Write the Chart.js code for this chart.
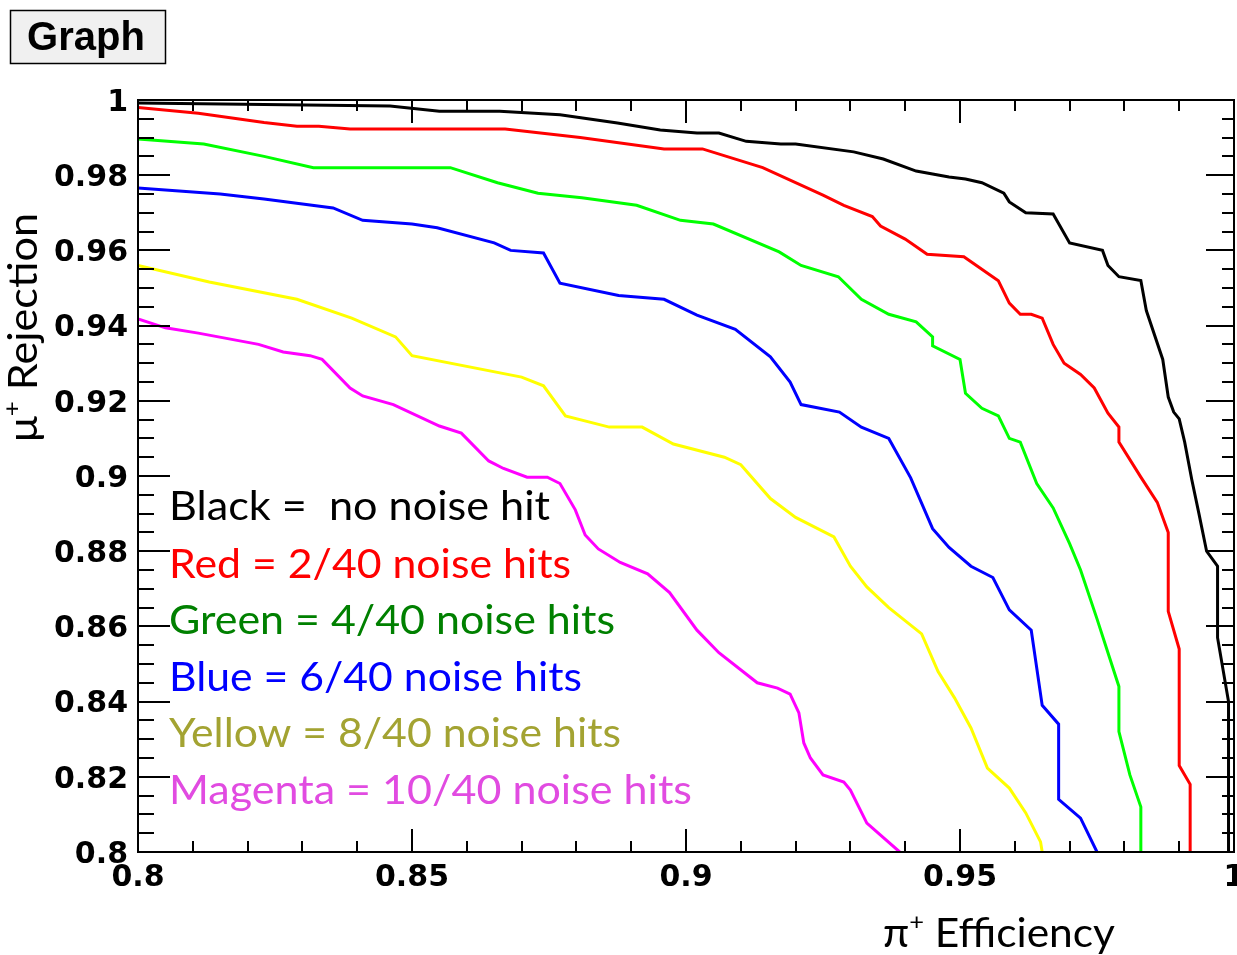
<!DOCTYPE html>
<html>
<head>
<meta charset="utf-8">
<script src="https://cdn.jsdelivr.net/npm/chart.js@4.4.1/dist/chart.umd.min.js"></script>
<style>
  html, body { margin: 0; padding: 0; background: #fff; }
  canvas { display: block; }
</style>
</head>
<body>
<canvas id="c" width="1237" height="955" style="width:1237px;height:955px"></canvas>
<script>
// ---- data ----
const blackX = [0.8, 0.846, 0.855, 0.866, 0.877, 0.8875, 0.8953, 0.902, 0.906, 0.911, 0.9173, 0.920, 0.9306, 0.936, 0.942, 0.948, 0.951, 0.954, 0.958, 0.959, 0.962, 0.967, 0.970, 0.976, 0.977, 0.979, 0.983, 0.984, 0.987, 0.988, 0.989, 0.990, 0.991, 0.9923, 0.9936, 0.995, 0.997, 0.997, 0.999, 0.999];
const blackY = [0.9992, 0.9984, 0.997, 0.997, 0.9961, 0.9939, 0.992, 0.9912, 0.9912, 0.989, 0.9883, 0.9883, 0.9862, 0.9843, 0.9811, 0.9795, 0.979, 0.978, 0.9752, 0.9729, 0.970, 0.9697, 0.962, 0.960, 0.956, 0.953, 0.952, 0.944, 0.931, 0.921, 0.917, 0.9152, 0.909, 0.899, 0.890, 0.880, 0.876, 0.857, 0.840, 0.800];

const redX = [0.8, 0.811, 0.823, 0.829, 0.833, 0.8387, 0.867, 0.8807, 0.896, 0.903, 0.914, 0.925, 0.9288, 0.934, 0.9355, 0.940, 0.944, 0.9507, 0.957, 0.959, 0.961, 0.963, 0.965, 0.967, 0.969, 0.972, 0.9745, 0.977, 0.979, 0.979, 0.983, 0.986, 0.988, 0.988, 0.990, 0.990, 0.992, 0.992];
const redY = [0.998, 0.9965, 0.994, 0.993, 0.993, 0.9923, 0.9923, 0.990, 0.987, 0.987, 0.982, 0.9747, 0.972, 0.969, 0.9665, 0.963, 0.959, 0.9583, 0.9519, 0.946, 0.943, 0.943, 0.942, 0.935, 0.930, 0.927, 0.9234, 0.9167, 0.913, 0.909, 0.8997, 0.893, 0.885, 0.864, 0.854, 0.823, 0.818, 0.800];

const greenX = [0.8, 0.812, 0.823, 0.832, 0.857, 0.8656, 0.873, 0.881, 0.891, 0.899, 0.905, 0.917, 0.921, 0.9278, 0.932, 0.937, 0.942, 0.945, 0.945, 0.950, 0.951, 0.954, 0.957, 0.959, 0.961, 0.964, 0.967, 0.970, 0.972, 0.975, 0.977, 0.979, 0.979, 0.981, 0.983, 0.983];
const greenY = [0.9896, 0.9883, 0.985, 0.982, 0.982, 0.978, 0.9752, 0.974, 0.972, 0.968, 0.967, 0.9596, 0.956, 0.953, 0.947, 0.943, 0.941, 0.937, 0.9346, 0.931, 0.922, 0.918, 0.916, 0.910, 0.909, 0.898, 0.8915, 0.882, 0.875, 0.862, 0.853, 0.844, 0.832, 0.8205, 0.812, 0.800];

const blueX = [0.8, 0.815, 0.823, 0.8356, 0.841, 0.850, 0.8546, 0.865, 0.868, 0.874, 0.877, 0.8877, 0.896, 0.902, 0.909, 0.9154, 0.919, 0.921, 0.928, 0.932, 0.937, 0.941, 0.945, 0.948, 0.952, 0.956, 0.959, 0.963, 0.965, 0.968, 0.968, 0.972, 0.975];
const blueY = [0.9766, 0.975, 0.9737, 0.9713, 0.968, 0.967, 0.966, 0.962, 0.960, 0.9593, 0.9513, 0.948, 0.947, 0.9428, 0.939, 0.9317, 0.925, 0.919, 0.917, 0.913, 0.910, 0.8995, 0.886, 0.881, 0.876, 0.873, 0.8644, 0.859, 0.839, 0.834, 0.814, 0.809, 0.800];

const yellowX = [0.8, 0.813, 0.829, 0.839, 0.847, 0.850, 0.870, 0.874, 0.878, 0.886, 0.892, 0.8977, 0.907, 0.910, 0.9154, 0.920, 0.927, 0.930, 0.933, 0.937, 0.943, 0.946, 0.949, 0.952, 0.955, 0.959, 0.962, 0.9647, 0.965];
const yellowY = [0.956, 0.9516, 0.947, 0.942, 0.937, 0.932, 0.9263, 0.924, 0.916, 0.913, 0.913, 0.9085, 0.905, 0.903, 0.894, 0.889, 0.8838, 0.876, 0.8705, 0.865, 0.858, 0.848, 0.841, 0.833, 0.8223, 0.817, 0.8104, 0.8027, 0.800];

const magentaX = [0.8, 0.805, 0.811, 0.822, 0.8265, 0.8314, 0.8336, 0.8387, 0.841, 0.8466, 0.855, 0.859, 0.864, 0.8667, 0.871, 0.8747, 0.877, 0.8798, 0.8816, 0.884, 0.888, 0.893, 0.897, 0.902, 0.906, 0.913, 0.9167, 0.919, 0.9206, 0.9215, 0.9227, 0.925, 0.9288, 0.930, 0.933, 0.939];
const magentaY = [0.9418, 0.9394, 0.938, 0.935, 0.933, 0.932, 0.931, 0.9234, 0.9213, 0.919, 0.9133, 0.9114, 0.904, 0.902, 0.8997, 0.8997, 0.898, 0.891, 0.8843, 0.8806, 0.877, 0.874, 0.869, 0.859, 0.853, 0.845, 0.8436, 0.842, 0.837, 0.829, 0.825, 0.8205, 0.8186, 0.8165, 0.8077, 0.800];

const legendLines = [
  "Black =  no noise hit",
  "Red = 2/40 noise hits",
  "Green = 4/40 noise hits",
  "Blue = 6/40 noise hits",
  "Yellow = 8/40 noise hits",
  "Magenta = 10/40 noise hits"
];
const xTitle = ["π", "+", " Efficiency"];
const yTitle = ["μ", "+", " Rejection"];
const plotTitle = "Graph";

// ---- styling ----
const lineColors = ["#000000", "#ff0000", "#00ff00", "#0000ff", "#ffff00", "#ff00ff"];
const textColors = ["#000000", "#ff0000", "#008000", "#0000ff", "#a3a332", "#e14be1"];
const legendWidths = [381, 402, 446, 413, 452, 523];
const legendBaselines = [520, 578, 634, 691, 747, 804];
const seriesX = [blackX, redX, greenX, blueX, yellowX, magentaX];
const seriesY = [blackY, redY, greenY, blueY, yellowY, magentaY];

const tickFont = { family: "'DejaVu Sans', sans-serif", size: 30, weight: 'bold' };
const fmt = v => String(parseFloat(Number(v).toFixed(3)));

function drawParts(ctx, parts, x, y, targetW, size, family, color) {
  const big = size + 'px ' + family;
  const small = Math.round(size * 0.6) + 'px ' + family;
  ctx.font = big; const w0 = ctx.measureText(parts[0]).width;
  ctx.font = small; const w1 = ctx.measureText(parts[1]).width;
  ctx.font = big; const w2 = ctx.measureText(parts[2]).width;
  const total = w0 + w1 + w2;
  const sx = targetW / total;
  ctx.save();
  ctx.translate(x, y);
  ctx.scale(sx, 1);
  ctx.fillStyle = color;
  ctx.textBaseline = 'alphabetic';
  ctx.textAlign = 'left';
  ctx.font = big; ctx.fillText(parts[0], 0, 0);
  ctx.font = small; ctx.fillText(parts[1], w0, -size * 0.42);
  ctx.font = big; ctx.fillText(parts[2], w0 + w1, 0);
  ctx.restore();
}

const decorPlugin = {
  id: 'decor',
  afterDraw(chart) {
    const ctx = chart.ctx;
    const xs = chart.scales.x, ys = chart.scales.y;
    const a = chart.chartArea;
    ctx.save();
    ctx.strokeStyle = '#000';
    ctx.lineWidth = 2;
    ctx.strokeRect(a.left, a.top, a.right - a.left, a.bottom - a.top);
    ctx.beginPath();
    for (let i = 0; i <= 20; i++) {
      const v = 0.8 + i * 0.01;
      const px = Math.round(xs.getPixelForValue(v));
      const len = (i % 5 === 0) ? 23 : 11;
      ctx.moveTo(px, a.bottom); ctx.lineTo(px, a.bottom - len);
      ctx.moveTo(px, a.top); ctx.lineTo(px, a.top + len);
    }
    for (let i = 0; i <= 40; i++) {
      const v = 0.8 + i * 0.005;
      const py = Math.round(ys.getPixelForValue(v));
      const major = (i % 4 === 0);
      ctx.moveTo(a.left, py); ctx.lineTo(a.left + (major ? 32 : 16), py);
      ctx.moveTo(a.right, py); ctx.lineTo(a.right - (major ? 28 : 12), py);
    }
    ctx.stroke();

    ctx.fillStyle = '#f0f0f0';
    ctx.fillRect(10, 10, 155, 53);
    ctx.lineWidth = 1.5;
    ctx.strokeStyle = '#000';
    ctx.strokeRect(10.5, 10.5, 155, 53);
    ctx.fillStyle = '#000';
    ctx.font = "bold 40px 'Liberation Sans', Arial, sans-serif";
    ctx.textAlign = 'center';
    ctx.textBaseline = 'alphabetic';
    ctx.fillText(plotTitle, 86, 50);

    const fam = "Lato, 'Open Sans', sans-serif";
    legendLines.forEach((t, i) => {
      ctx.font = '40px ' + fam;
      const w = ctx.measureText(t).width;
      ctx.save();
      ctx.translate(169, legendBaselines[i]);
      ctx.scale(legendWidths[i] / w, 1);
      ctx.fillStyle = textColors[i];
      ctx.textAlign = 'left';
      ctx.fillText(t, 0, 0);
      ctx.restore();
    });

    drawParts(ctx, xTitle, 883, 947, 232, 40, fam, '#000');
    ctx.save();
    ctx.translate(37, 442);
    ctx.rotate(-Math.PI / 2);
    drawParts(ctx, yTitle, 0, 0, 229, 40, fam, '#000');
    ctx.restore();
    ctx.restore();
  }
};

const datasets = seriesX.map((xsArr, k) => ({
  data: xsArr.map((v, i) => ({ x: v, y: seriesY[k][i] })),
  borderColor: lineColors[k],
  borderWidth: 3,
  pointRadius: 0,
  fill: false,
  tension: 0
}));

new Chart(document.getElementById('c'), {
  type: 'line',
  data: { datasets },
  options: {
    responsive: false,
    animation: false,
    devicePixelRatio: 1,
    layout: { padding: { top: 100, right: 3, left: 0, bottom: 0 } },
    plugins: { legend: { display: false }, tooltip: { enabled: false }, title: { display: false } },
    scales: {
      x: {
        type: 'linear', min: 0.8, max: 1.0,
        grid: { display: false, drawTicks: false },
        border: { display: false },
        ticks: { stepSize: 0.05, font: tickFont, color: '#000', padding: 8, maxRotation: 0, autoSkip: false, callback: v => fmt(v) },
        afterFit(s) { s.height = 103; s.paddingLeft = 0; s.paddingRight = 0; }
      },
      y: {
        type: 'linear', min: 0.8, max: 1.0,
        grid: { display: false, drawTicks: false },
        border: { display: false },
        ticks: { stepSize: 0.02, font: tickFont, color: '#000', padding: 10, labelOffset: 3, autoSkip: false, callback: v => fmt(v) },
        afterFit(s) { s.width = 138; s.paddingTop = 0; s.paddingBottom = 0; }
      }
    }
  },
  plugins: [decorPlugin]
});
</script>
</body>
</html>
